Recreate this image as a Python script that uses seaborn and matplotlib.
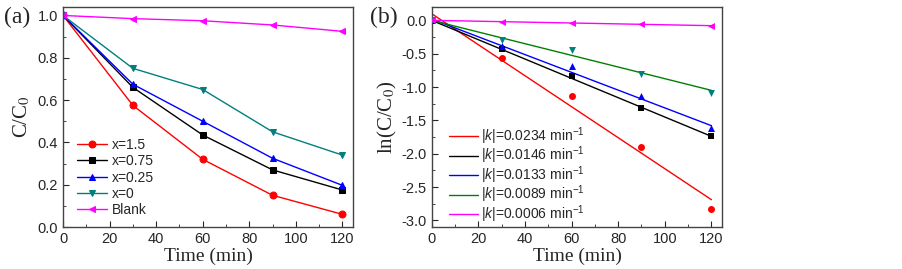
import numpy as np
import pandas as pd
import matplotlib
matplotlib.use("Agg")
import matplotlib.pyplot as plt
import seaborn as sns

sns.set_style("ticks")
plt.rcParams["font.family"] = ["Liberation Sans", "DejaVu Sans"]
plt.rcParams["mathtext.fontset"] = "custom"
plt.rcParams["mathtext.rm"] = "Liberation Sans"
plt.rcParams["mathtext.it"] = "Liberation Sans:italic"

# data
time = [0, 30, 60, 90, 120]
series = ["x=1.5", "x=0.75", "x=0.25", "x=0", "Blank"]
c_15 = [1.0, 0.575, 0.32, 0.15, 0.06]
c_075 = [1.0, 0.66, 0.435, 0.27, 0.175]
c_025 = [1.0, 0.675, 0.50, 0.325, 0.197]
c_0 = [1.0, 0.75, 0.65, 0.45, 0.34]
c_blank = [1.0, 0.985, 0.975, 0.955, 0.925]

ln_15 = [0.0, -0.56, -1.14, -1.90, -2.83]
ln_075 = [0.0, -0.43, -0.84, -1.32, -1.74]
ln_025 = [0.0, -0.39, -0.69, -1.13, -1.62]
ln_0 = [0.0, -0.29, -0.44, -0.80, -1.09]
ln_blank = [0.0, -0.03, -0.04, -0.055, -0.085]

fit_t = [0, 120]
fit_15 = [0.10, -2.69]
fit_075 = [0.0, -1.74]
fit_025 = [0.02, -1.58]
fit_0 = [0.0, -1.05]
fit_blank = [0.0, -0.08]
k_labels = ["0.0234", "0.0146", "0.0133", "0.0089", "0.0006"]

colors = ["#ff0000", "#000000", "#0000ff", "#007f7f", "#ff00ff"]
fit_colors = ["#ff0000", "#000000", "#0000ff", "#008000", "#ff00ff"]
markers = ["o", "s", "^", "v", "<"]

fig = plt.figure(figsize=(9.03, 2.69), dpi=100)
ax1 = fig.add_axes([0.0698, 0.156, 0.321, 0.818])
ax2 = fig.add_axes([0.478, 0.156, 0.322, 0.818])

# (a)
for name, vals, col, mk in zip(series, [c_15, c_075, c_025, c_0, c_blank], colors, markers):
    sns.lineplot(x=time, y=vals, ax=ax1, color=col, marker=mk, markersize=5,
                 markeredgecolor=col, linewidth=1.0, label=name)
ax1.set_xlim(0, 124.5)
ax1.set_ylim(0, 1.04)
ax1.set_xticks(np.arange(0, 121, 20))
ax1.set_xticks(np.arange(10, 121, 20), minor=True)
ax1.set_yticks(np.arange(0, 1.01, 0.2))
ax1.set_yticks(np.arange(0.1, 1.01, 0.2), minor=True)
ax1.set_xlabel("Time (min)", family="Liberation Serif", fontsize=14, labelpad=1)
ax1.set_ylabel("C/C$_0$", family="Liberation Serif", fontsize=15, labelpad=4)
ax1.yaxis.label.set_math_fontfamily("stix")
ax1.legend(loc="lower left", bbox_to_anchor=(0.014, 0.0), frameon=False, fontsize=10,
           handlelength=2.2, handletextpad=0.3, labelspacing=0.17, borderaxespad=0.3)

# (b)
for i in range(5):
    pts = [ln_15, ln_075, ln_025, ln_0, ln_blank][i]
    fit = [fit_15, fit_075, fit_025, fit_0, fit_blank][i]
    sns.scatterplot(x=time, y=pts, ax=ax2, color=colors[i], marker=markers[i], s=25,
                    edgecolor=colors[i], linewidth=0, zorder=3)
    sns.lineplot(x=fit_t, y=fit, ax=ax2, color=fit_colors[i], linewidth=1.0,
                 label="|$k$|=" + k_labels[i] + " min$^{-1}$")
ax2.set_xlim(0, 124.7)
ax2.set_ylim(-3.1, 0.2)
ax2.set_xticks(np.arange(0, 121, 20))
ax2.set_xticks(np.arange(10, 121, 20), minor=True)
ax2.set_yticks(np.arange(-3.0, 0.01, 0.5))
ax2.set_yticks(np.arange(-2.75, 0.1, 0.5), minor=True)
ax2.set_yticklabels(["-3.0", "-2.5", "-2.0", "-1.5", "-1.0", "-0.5", "0.0"])
ax2.set_xlabel("Time (min)", family="Liberation Serif", fontsize=14, labelpad=1)
ax2.set_ylabel("ln(C/C$_0$)", family="Liberation Serif", fontsize=15, labelpad=2)
ax2.yaxis.label.set_math_fontfamily("stix")
ax2.legend(loc="lower left", bbox_to_anchor=(0.027, -0.035), frameon=False, fontsize=10,
           handlelength=2.1, handletextpad=0.2, labelspacing=-0.15, borderaxespad=0.3)

for ax in (ax1, ax2):
    ax.tick_params(which="both", direction="in", labelsize=10.5, top=False, right=False)
    ax.tick_params(which="major", length=4)
    ax.tick_params(which="minor", length=2)
    for sp in ax.spines.values():
        sp.set_linewidth(1.0)
        sp.set_color("#444444")

fig.text(0.004, 0.915, "(a)", family="Liberation Serif", fontsize=17)
fig.text(0.410, 0.915, "(b)", family="Liberation Serif", fontsize=17)

fig.savefig("out.png", dpi=100)
